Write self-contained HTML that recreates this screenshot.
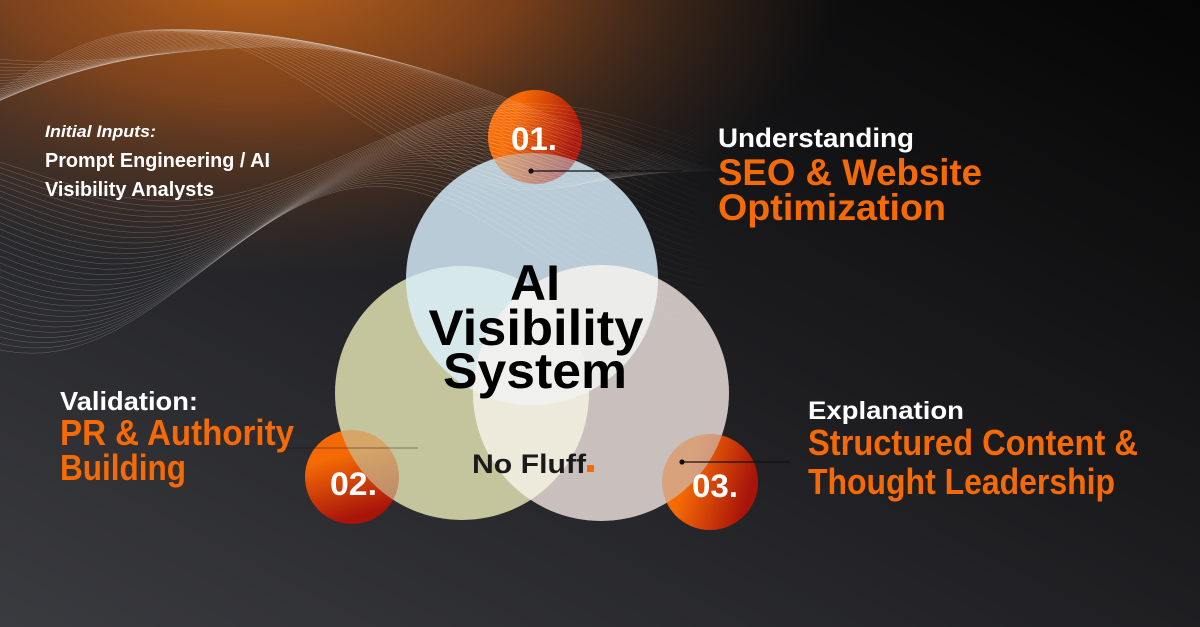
<!DOCTYPE html>
<html><head><meta charset="utf-8"><style>
html,body{margin:0;padding:0;width:1200px;height:627px;overflow:hidden;background:#1a1a1c}
svg{display:block}
</style></head><body>
<svg id="s" width="1200" height="627" viewBox="0 0 1200 627" xmlns="http://www.w3.org/2000/svg">
<defs>
<linearGradient id="bg" x1="0" y1="1" x2="1" y2="0">
<stop offset="0" stop-color="#3a3b40"/><stop offset="0.55" stop-color="#1c1c1f"/><stop offset="1" stop-color="#050505"/>
</linearGradient>
<radialGradient id="glow" cx="260" cy="-40" r="420" gradientUnits="userSpaceOnUse" gradientTransform="translate(260,-40) scale(1.4,0.75) translate(-260,40)">
<stop offset="0" stop-color="#c4671a" stop-opacity="1"/><stop offset="0.45" stop-color="#9a4e1c" stop-opacity="0.75"/><stop offset="1" stop-color="#5a3a25" stop-opacity="0"/>
</radialGradient>
<linearGradient id="og" x1="0" y1="0" x2="1" y2="0.3">
<stop offset="0.35" stop-color="#f56a05"/><stop offset="1" stop-color="#a8140a"/>
</linearGradient>
<linearGradient id="og2" x1="0" y1="0" x2="0.3" y2="1">
<stop offset="0.35" stop-color="#f56a05"/><stop offset="1" stop-color="#a8140a"/>
</linearGradient>
<linearGradient id="fade" x1="0" y1="0" x2="720" y2="0" gradientUnits="userSpaceOnUse">
<stop offset="0" stop-color="#fff"/><stop offset="0.7" stop-color="#fff"/><stop offset="1" stop-color="#fff" stop-opacity="0"/>
</linearGradient>
<mask id="wm"><rect width="1200" height="627" fill="url(#fade)"/></mask>
<clipPath id="cT"><circle cx="532" cy="279" r="126"/></clipPath>
<clipPath id="cL"><circle cx="462" cy="393" r="127"/></clipPath>
<clipPath id="cR"><circle cx="601" cy="393" r="128"/></clipPath>
</defs>
<rect width="1200" height="627" fill="url(#bg)"/>
<rect width="1200" height="627" fill="url(#glow)"/>

<circle cx="535" cy="137" r="47" fill="url(#og)"/>
<circle cx="352" cy="477" r="47" fill="url(#og2)"/>
<circle cx="710" cy="482" r="48" fill="url(#og)"/>

<circle cx="462" cy="393" r="127" fill="#c5c59d"/>
<circle cx="601" cy="393" r="128" fill="#c9c0bd"/>
<circle cx="532" cy="279" r="126" fill="#b8cbd6"/>
<g clip-path="url(#cL)"><circle cx="601" cy="393" r="128" fill="#eeeadb"/></g>
<g clip-path="url(#cT)"><circle cx="462" cy="393" r="127" fill="#d7e8ea"/></g>
<g clip-path="url(#cT)"><circle cx="601" cy="393" r="128" fill="#ececea"/></g>
<g clip-path="url(#cT)"><g clip-path="url(#cL)"><circle cx="601" cy="393" r="128" fill="#f0f0ee"/></g></g>

<circle cx="535" cy="137" r="47" fill="url(#og)" opacity="0.45"/>
<circle cx="352" cy="477" r="47" fill="url(#og2)" opacity="0.35"/>
<circle cx="710" cy="482" r="48" fill="url(#og)" opacity="0.35"/>

<g mask="url(#wm)"><g id="waves" fill="none" stroke="#ffffff" stroke-width="0.5" stroke-opacity="0.28"></g></g>

<g font-family="Liberation Sans, sans-serif" font-weight="bold" fill="#fff">
<text x="511" y="150" font-size="32" textLength="46" lengthAdjust="spacingAndGlyphs">01.</text>
<text x="330" y="495" font-size="32" textLength="47" lengthAdjust="spacingAndGlyphs">02.</text>
<text x="692" y="497" font-size="32" textLength="46" lengthAdjust="spacingAndGlyphs">03.</text>
</g>

<g stroke="#111" stroke-width="1.2">
<line x1="531" y1="171" x2="683" y2="171"/><circle cx="531" cy="171" r="2" fill="#111"/>
<line x1="682" y1="462" x2="790" y2="462"/><circle cx="682" cy="462" r="2" fill="#111"/>
<line x1="278" y1="448" x2="418" y2="448" stroke-opacity="0.35"/>
</g>

<g font-family="Liberation Sans, sans-serif" font-weight="bold" fill="#000" text-anchor="middle">
<text x="535" y="300" font-size="50">AI</text>
<text x="536" y="345" font-size="50" textLength="215" lengthAdjust="spacingAndGlyphs">Visibility</text>
<text x="535" y="388" font-size="50" textLength="184" lengthAdjust="spacingAndGlyphs">System</text>
</g>
<text x="472" y="473" font-family="Liberation Sans, sans-serif" font-weight="bold" font-size="27" fill="#1a1a1a" textLength="114" lengthAdjust="spacingAndGlyphs">No Fluff</text>
<rect x="587" y="465" width="7" height="7" fill="#f26b0f"/>

<g font-family="Liberation Sans, sans-serif" font-weight="bold">
<text x="45" y="137" font-size="17" font-style="italic" fill="#fff" textLength="111" lengthAdjust="spacingAndGlyphs">Initial Inputs:</text>
<text x="45" y="167" font-size="20" fill="#fff" textLength="225" lengthAdjust="spacingAndGlyphs">Prompt Engineering / AI</text>
<text x="45" y="196" font-size="20" fill="#fff" textLength="169" lengthAdjust="spacingAndGlyphs">Visibility Analysts</text>

<text x="718" y="147" font-size="27" fill="#fff" textLength="196" lengthAdjust="spacingAndGlyphs">Understanding</text>
<text x="718" y="185" font-size="37" fill="#f56a05" textLength="264" lengthAdjust="spacingAndGlyphs">SEO &amp; Website</text>
<text x="718" y="220" font-size="37" fill="#f56a05" textLength="228" lengthAdjust="spacingAndGlyphs">Optimization</text>

<text x="60" y="410" font-size="26" fill="#fff" textLength="138" lengthAdjust="spacingAndGlyphs">Validation:</text>
<text x="60" y="445" font-size="36" fill="#f56a05" textLength="234" lengthAdjust="spacingAndGlyphs">PR &amp; Authority</text>
<text x="60" y="480" font-size="36" fill="#f56a05" textLength="126" lengthAdjust="spacingAndGlyphs">Building</text>

<text x="808" y="419" font-size="25" fill="#fff" textLength="156" lengthAdjust="spacingAndGlyphs">Explanation</text>
<text x="808" y="455" font-size="36" fill="#f56a05" textLength="330" lengthAdjust="spacingAndGlyphs">Structured Content &amp;</text>
<text x="808" y="494" font-size="36" fill="#f56a05" textLength="307" lengthAdjust="spacingAndGlyphs">Thought Leadership</text>
</g>
</svg>
<script>
(function(){
var g=document.getElementById('waves');var ns='http://www.w3.org/2000/svg';
function add(fn){var d='';for(var x=0;x<=720;x+=8){var y=fn(x);d+=(x?'L':'M')+x+' '+y.toFixed(1);}var p=document.createElementNS(ns,'path');p.setAttribute('d',d);g.appendChild(p);}
for(var i=0;i<30;i++){var t=i/29;
 add(function(x){return 30+t*80+ (30+t*50)*Math.sin(x/120+1.8+t*1.6) + x*0.15*(1-t);});
 add(function(x){return 170+t*110+ (40+t*35)*Math.sin(x/105-0.2+t*1.4) - x*0.05;});
}
})();
</script>
</body></html>
